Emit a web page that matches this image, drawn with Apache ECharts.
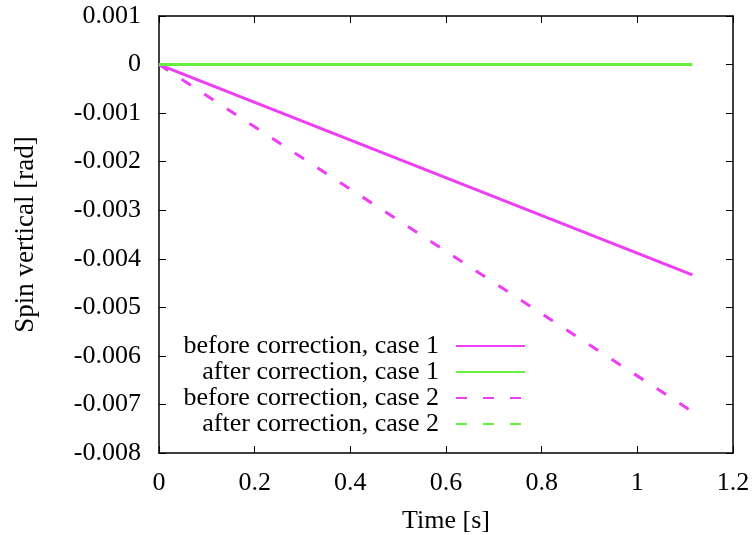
<!DOCTYPE html>
<html>
<head>
<meta charset="utf-8">
<script src="https://cdn.jsdelivr.net/npm/echarts@6/dist/echarts.min.js"></script>
<style>
  html, body { margin: 0; padding: 0; background: #fff; }
  #chart { width: 754px; height: 535px; }
</style>
</head>
<body>
<div id="chart"></div>
<script>
// data (straight lines, start and end points)
var timeS = [0, 1.115];
var beforeCase1 = [0, -0.00433];
var afterCase1 = [0, 0];
var beforeCase2 = [0, -0.00715];
var afterCase2 = [0, 0];

var seriesNames = [
  'before correction, case 1',
  'after correction, case 1',
  'before correction, case 2',
  'after correction, case 2'
];

var FONT = 'Liberation Serif';
var MAGENTA = '#ee3ef5';
var GREEN = '#64f03c';

function pairs(ys) {
  return timeS.map(function (t, i) { return [t, ys[i]]; });
}

function fmtY(v) {
  return String(Number(v.toFixed(3)));
}

var myChart = echarts.init(document.getElementById('chart'));

var tickStyle = { inside: true, length: 7, lineStyle: { color: '#000', width: 1 } };
var lineAxis = { show: true, onZero: false, lineStyle: { color: '#000', width: 1.5 } };

var option = {
  backgroundColor: '#fff',
  animation: false,
  textStyle: { fontFamily: FONT, color: '#000' },
  grid: { left: 159, right: 21, top: 16, bottom: 82, containLabel: false, outerBoundsMode: 'none' },
  legend: {
    orient: 'vertical',
    align: 'right',
    right: 228,
    top: 333,
    padding: 0,
    itemGap: 0,
    itemWidth: 69,
    itemHeight: 14,
    data: seriesNames,
    itemStyle: { opacity: 0 },
    textStyle: {
      fontFamily: FONT,
      fontSize: 26,
      color: '#000',
      lineHeight: 26,
      padding: [0, 12, 0, 0]
    }
  },
  xAxis: [{
    type: 'value',
    min: 0,
    max: 1.2,
    interval: 0.2,
    name: 'Time [s]',
    nameLocation: 'middle',
    nameGap: 55,
    nameTextStyle: { fontFamily: FONT, fontSize: 26, color: '#000' },
    axisLine: lineAxis,
    axisTick: tickStyle,
    axisLabel: { fontFamily: FONT, fontSize: 26, color: '#000', margin: 17 },
    splitLine: { show: false }
  }, {
    type: 'value',
    position: 'top',
    min: 0,
    max: 1.2,
    interval: 0.2,
    axisLine: lineAxis,
    axisTick: tickStyle,
    axisLabel: { show: false },
    splitLine: { show: false }
  }],
  yAxis: [{
    type: 'value',
    min: -0.008,
    max: 0.001,
    interval: 0.001,
    name: 'Spin vertical [rad]',
    nameLocation: 'middle',
    nameGap: 120,
    nameRotate: 90,
    nameTextStyle: { fontFamily: FONT, fontSize: 27, color: '#000' },
    axisLine: lineAxis,
    axisTick: tickStyle,
    axisLabel: { fontFamily: FONT, fontSize: 26, color: '#000', margin: 18, formatter: fmtY },
    splitLine: { show: false }
  }, {
    type: 'value',
    position: 'right',
    min: -0.008,
    max: 0.001,
    interval: 0.001,
    axisLine: lineAxis,
    axisTick: tickStyle,
    axisLabel: { show: false },
    splitLine: { show: false }
  }],
  series: [{
    name: seriesNames[0],
    type: 'line',
    symbol: 'none',
    data: pairs(beforeCase1),
    itemStyle: { color: MAGENTA },
    lineStyle: { color: MAGENTA, width: 3 }
  }, {
    name: seriesNames[1],
    type: 'line',
    symbol: 'none',
    data: pairs(afterCase1),
    itemStyle: { color: GREEN },
    lineStyle: { color: GREEN, width: 3 }
  }, {
    name: seriesNames[2],
    type: 'line',
    symbol: 'none',
    data: pairs(beforeCase2),
    itemStyle: { color: MAGENTA },
    lineStyle: { color: MAGENTA, width: 3, type: [11, 16] }
  }, {
    name: seriesNames[3],
    type: 'line',
    symbol: 'none',
    data: pairs(afterCase2),
    itemStyle: { color: GREEN },
    lineStyle: { color: GREEN, width: 3, type: [11, 16] }
  }]
};

myChart.setOption(option);
</script>
</body>
</html>
